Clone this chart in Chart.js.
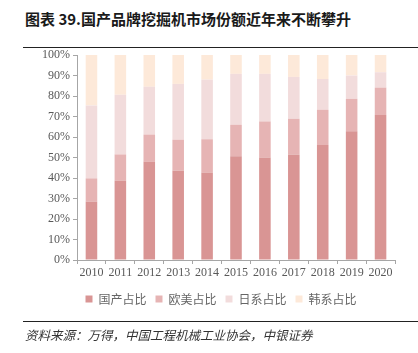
<!DOCTYPE html>
<html>
<head>
<meta charset="utf-8">
<script src="https://cdn.jsdelivr.net/npm/chart.js@4"></script>
<style>
  body { margin: 0; background: #fff; }
  #wrap { position: relative; width: 418px; height: 353px; overflow: hidden; }
  #title { position: absolute; left: 25px; top: 8px; font: bold 15px "Noto Sans CJK SC", sans-serif; color: #1a1a1a; white-space: nowrap; }
  .rule { position: absolute; left: 23px; width: 395px; height: 0; border-top: 1.5px solid #222; }
  #source { position: absolute; left: 25px; top: 325px; font: italic 12.5px "Noto Sans CJK SC", sans-serif; color: #333; white-space: nowrap; }
  canvas { position: absolute; left: 0; top: 0; }
</style>
</head>
<body>
<div id="wrap">
  <div id="title">图表 39.国产品牌挖掘机市场份额近年来不断攀升</div>
  <div class="rule" style="top:47px"></div>
  <canvas id="chart" width="418" height="353"></canvas>
  <div class="rule" style="top:321px"></div>
  <div id="source">资料来源：万得，中国工程机械工业协会，中银证券</div>
</div>
<script>
const years = ['2010', '2011', '2012', '2013', '2014', '2015', '2016', '2017', '2018', '2019', '2020'];
const seriesNames = ['国产占比', '欧美占比', '日系占比', '韩系占比'];
const domestic = [28.5, 38.8, 47.9, 43.7, 42.7, 50.6, 50.0, 51.5, 56.1, 62.8, 70.7];
const western = [11.3, 12.7, 13.3, 15.0, 16.2, 15.4, 17.6, 17.4, 17.2, 15.8, 13.4];
const japanese = [35.6, 29.1, 23.3, 27.2, 29.1, 24.8, 23.2, 20.4, 15.0, 11.4, 7.5];
const korean = [24.6, 19.4, 15.5, 14.1, 12.0, 9.2, 9.2, 10.7, 11.7, 10.0, 8.4];
const colors = ['#d99594', '#e6b4b4', '#f2dcdc', '#fde9d9'];

const allSeries = [domestic, western, japanese, korean];
const tickFont = { family: '"Liberation Serif", serif', size: 12 };

// the original legend is centred a bit right of the canvas middle
const shiftLegend = {
    id: 'shiftLegend',
    afterLayout(chart) {
        if (chart.legend) chart.legend.left = 47;
    }
};

new Chart(document.getElementById('chart').getContext('2d'), {
    type: 'bar',
    data: {
        labels: years,
        datasets: allSeries.map((vals, i) => ({
            label: seriesNames[i],
            data: vals,
            backgroundColor: colors[i],
            borderWidth: 0,
            barPercentage: 0.4,
            categoryPercentage: 1
        }))
    },
    options: {
        responsive: false,
        animation: false,
        layout: { padding: { top: 55, right: 23, left: 0, bottom: 38 } },
        plugins: {
            legend: {
                position: 'bottom',
                labels: {
                    boxWidth: 7,
                    boxHeight: 7,
                    padding: 9,
                    color: '#666',
                    font: { family: '"Noto Sans CJK SC", sans-serif', size: 12 }
                }
            },
            tooltip: { enabled: false }
        },
        scales: {
            x: {
                stacked: true,
                grid: { display: true, drawOnChartArea: false, offset: true, color: '#a6a6a6', tickLength: 4 },
                border: { color: '#a6a6a6' },
                ticks: { color: '#595959', font: tickFont, padding: 2, maxRotation: 0 },
                afterFit: scale => { scale.height = 24; }
            },
            y: {
                stacked: true,
                min: 0,
                max: 100,
                grid: { display: true, drawOnChartArea: false, color: '#a6a6a6', tickLength: 4 },
                border: { color: '#a6a6a6' },
                ticks: { stepSize: 10, color: '#595959', font: tickFont, padding: 3, callback: v => v + '%' },
                afterFit: scale => { scale.width = 77; }
            }
        }
    },
    plugins: [shiftLegend]
});
</script>
</body>
</html>
